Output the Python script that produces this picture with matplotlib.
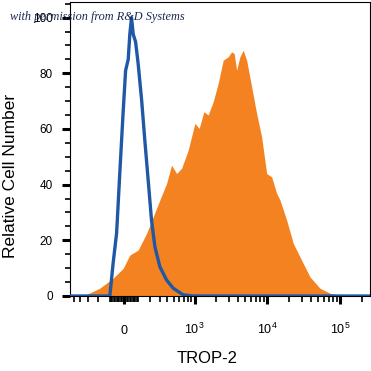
import matplotlib
matplotlib.use("Agg")
import matplotlib.pyplot as plt
from matplotlib import font_manager
from matplotlib.ticker import FixedLocator, NullFormatter

# ---------------- data ----------------
orange_x = [-573, -407, -300, -181, -75, -5, 41, 101, 169, 231, 303, 390, 464, 551,
            653, 811, 1007, 1157, 1345, 1541, 1809, 2120, 2485, 2910, 3240, 3516,
            3795, 4210, 4672, 5206, 6093, 7133, 8355, 9787, 11458, 13411, 14886,
            18380, 22655, 31009, 38322, 52514, 72044, 109585, 254800]
orange_y = [0, 0, 0.8, 2.8, 6.4, 9.9, 14.7, 16.5, 22.5, 28.5, 34.5, 40.5, 47, 44,
            45.9, 52.4, 62, 60.2, 66.2, 65, 69.8, 76.4, 84.7, 85.9, 87.7, 87.1,
            81.1, 85.9, 88.3, 84.7, 75.2, 65.6, 57.2, 44, 42.8, 36.9, 34.5,
            27.3, 18.9, 11.7, 6.9, 2.8, 1.0, 0.1, 0]

blue_x = [-573, -99, -75, -50, -27, -5, 12, 30, 41, 53, 65, 82, 101, 128, 154,
          183, 214, 248, 303, 390, 491, 688, 953, 254800]
blue_y = [0, 0, 11.7, 22.6, 45, 66, 81, 85, 94, 100, 94, 91.3, 83.5, 70.4, 56,
          41.7, 27.3, 17.7, 10.5, 5.7, 2.8, 0.4, 0, 0]

x_major = [0, 1e3, 1e4, 1e5]
x_major_labels = ["0", "$10^3$", "$10^4$", "$10^5$"]
x_minor = ([-500, -400, -300, -200, -100, -90, -80, -70, -60, -50, -40, -30, -20, -10,
            10, 20, 30, 40, 50, 60, 70, 80, 90, 100]
           + [k * 10 ** n for n in (2, 3, 4) for k in range(2, 10)]
           + [2e5])
y_major = [0, 20, 40, 60, 80, 100]
y_minor = [5, 10, 15, 25, 30, 35, 45, 50, 55, 65, 70, 75, 85, 90, 95, 105]

xlabel = "TROP-2"
ylabel = "Relative Cell Number"
watermark = "with permission from R&D Systems"

# ---------------- style ----------------
names = {f.name for f in font_manager.fontManager.ttflist}
narrow = "Liberation Sans Narrow" in names
label_family = ["Liberation Sans Narrow", "Liberation Sans"] if narrow else ["Liberation Sans"]
plt.rcParams["font.family"] = ["Liberation Sans", "DejaVu Sans"]
plt.rcParams["mathtext.fontset"] = "custom"
plt.rcParams["mathtext.rm"] = "Liberation Sans"
plt.rcParams["mathtext.it"] = "Liberation Sans:italic"
plt.rcParams["mathtext.bf"] = "Liberation Sans:bold"

ORANGE = "#f48220"
BLUE = "#1f58a6"

W = H = 371
fig = plt.figure(figsize=(W / 100, H / 100), dpi=100)
ax = fig.add_axes([70 / W, 75 / H, 300 / W, 294 / H])

ax.set_xscale("asinh", linear_width=217)
ax.fill_between(orange_x, orange_y, 0, color=ORANGE, lw=0, zorder=2)
ax.plot(blue_x, blue_y, color=BLUE, lw=2.4, zorder=3, solid_joinstyle="round")

ax.set_xlim(-573, 254800)
ax.set_ylim(0, 105.6)

for s in ax.spines.values():
    s.set_linewidth(0.8)
    s.set_color("black")

# x ticks
ax.xaxis.set_major_locator(FixedLocator(x_major))
ax.xaxis.set_minor_locator(FixedLocator(x_minor))
ax.xaxis.set_minor_formatter(NullFormatter())
ax.set_xticks(x_major)
ax.set_xticklabels(x_major_labels)
ax.tick_params(axis="x", which="major", direction="out", length=6, width=2.2,
               labelsize=9, pad=21)
ax.tick_params(axis="x", which="minor", direction="out", length=4, width=1.2)
for lab in ax.get_xticklabels():
    lab.set_verticalalignment("baseline")

# y ticks
ax.yaxis.set_major_locator(FixedLocator(y_major))
ax.yaxis.set_minor_locator(FixedLocator(y_minor))
ax.yaxis.set_minor_formatter(NullFormatter())
ax.tick_params(axis="y", which="major", direction="out", length=6, width=2.2,
               labelsize=8.5, pad=6.5)
ax.tick_params(axis="y", which="minor", direction="out", length=3.5, width=1.2)

ax.set_xlabel(xlabel, family=label_family, fontsize=13.5 if narrow else 12)
ax.xaxis.set_label_coords((207 - 70) / 300, (296 - 351) / 294)
ax.xaxis.label.set_verticalalignment("top")
ax.set_ylabel(ylabel, family=label_family, fontsize=15 if narrow else 12.5)
ax.yaxis.set_label_coords((18 - 70) / 300, (296 - 176) / 294)

fig.text(10 / W, 1 - 17 / H, watermark, family=["Liberation Serif", "DejaVu Serif"],
         style="italic", fontsize=8.8, color="#1c2a50", ha="left", va="center",
         zorder=10)

fig.savefig("out.png", dpi=100)
